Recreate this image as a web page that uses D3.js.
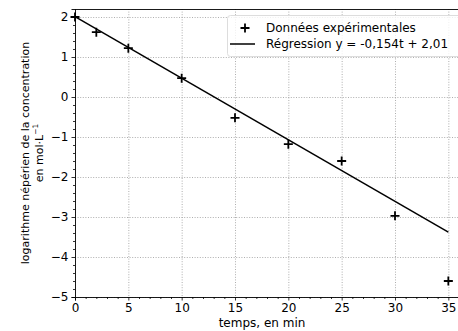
<!DOCTYPE html>
<html><head><meta charset="utf-8">
<script src="https://cdn.jsdelivr.net/npm/d3@7"></script>
<style>body{margin:0;background:#fff}svg{display:block;font-family:"DejaVu Sans",sans-serif}</style>
</head><body><svg id="c" width="458" height="331"></svg>
<script>
const times = [0, 2, 5, 10, 15, 20, 25, 30, 35];
const lnC = [2.0, 1.62, 1.22, 0.47, -0.52, -1.18, -1.6, -2.97, -4.6];
const fitT = [0, 35];
const fitY = [2.01, -3.38];
const xTicks = [0, 5, 10, 15, 20, 25, 30, 35];
const yTicks = [2, 1, 0, -1, -2, -3, -4, -5];
const legendLabels = ["Données expérimentales", "Régression y = -0,154t + 2,01"];

const svg = d3.select("#c");
const L = 75, R = 459, T = 9, B = 297;
const x = d3.scaleLinear().domain([0, 36]).range([L, R]);
const y = d3.scaleLinear().domain([-5, 2.2]).range([B, T]);
const fmt = d => (d < 0 ? "\u2212" + Math.abs(d) : "" + d);

// grid
const g = svg.append("g");
g.selectAll(".gx").data(xTicks).join("line")
  .attr("x1", d => x(d) + 0.5).attr("x2", d => x(d) + 0.5).attr("y1", T).attr("y2", B)
  .attr("stroke", "#999").attr("stroke-width", 0.8).attr("stroke-dasharray", "1,1.6");
g.selectAll(".gy").data(yTicks).join("line")
  .attr("y1", d => Math.round(y(d)) + 0.5).attr("y2", d => Math.round(y(d)) + 0.5).attr("x1", L).attr("x2", R)
  .attr("stroke", "#999").attr("stroke-width", 0.8).attr("stroke-dasharray", "1,1.6");

// axes
const xAxis = svg.append("g").attr("transform", `translate(0,${B})`)
  .call(d3.axisBottom(x).tickValues(xTicks).tickFormat(fmt).tickSize(3.5).tickPadding(3));
const xMinor = svg.append("g").attr("transform", `translate(0,${B})`)
  .call(d3.axisBottom(x).tickValues(d3.range(0, 36, 1).filter(v => v % 5)).tickFormat("").tickSize(2));
const yAxis = svg.append("g").attr("transform", `translate(${L},0)`)
  .call(d3.axisLeft(y).tickValues(yTicks).tickFormat(fmt).tickSize(3.5).tickPadding(3));
const yMinor = svg.append("g").attr("transform", `translate(${L},0)`)
  .call(d3.axisLeft(y).tickValues(d3.range(-50, 22, 2).map(v => v / 10).filter(v => Math.abs(v - Math.round(v)) > 1e-6)).tickFormat("").tickSize(2));
[xAxis, xMinor, yAxis, yMinor].forEach(a => {
  a.selectAll("path").attr("stroke", "#000").attr("stroke-width", 0.9);
  a.selectAll("line").attr("stroke", "#000").attr("stroke-width", 0.8);
  a.selectAll("text").attr("font-size", 12).attr("fill", "#000").attr("font-family", "DejaVu Sans");
});
xMinor.select("path").remove(); yMinor.select("path").remove();
// top spine
svg.append("line").attr("x1", L).attr("x2", R).attr("y1", T + 0.5).attr("y2", T + 0.5)
  .attr("stroke", "#000").attr("stroke-width", 0.9);

// regression line
svg.append("path").datum(fitT.map((t, i) => [t, fitY[i]]))
  .attr("d", d3.line().x(d => x(d[0])).y(d => y(d[1])))
  .attr("fill", "none").attr("stroke", "#000").attr("stroke-width", 1.5);

// points
const m = 4.5;
const pts = svg.append("g").selectAll("g").data(times.map((t, i) => [t, lnC[i]])).join("g")
  .attr("transform", d => `translate(${x(d[0])},${y(d[1])})`);
pts.append("path").attr("d", `M${-m},0H${m}M0,${-m}V${m}`).attr("stroke", "#000").attr("stroke-width", 1.8);

// legend
const lg = svg.append("g");
lg.append("rect").attr("x", 227.5).attr("y", 15.5).attr("width", 240).attr("height", 41).attr("rx", 3)
  .attr("fill", "#fff").attr("fill-opacity", 0.8).attr("stroke", "#ddd").attr("stroke-width", 1);
lg.append("path").attr("d", `M${245 - m},28H${245 + m}M245,${28 - m}V${28 + m}`).attr("stroke", "#000").attr("stroke-width", 1.8);
lg.append("line").attr("x1", 230).attr("x2", 255).attr("y1", 44).attr("y2", 44).attr("stroke", "#000").attr("stroke-width", 1.5);
lg.selectAll("text").data(legendLabels).join("text")
  .attr("x", 266).attr("y", (d, i) => 28 + i * 16).attr("dy", "0.35em")
  .attr("font-size", 12).text(d => d);

// axis labels
svg.append("text").attr("x", (L + 449) / 2).attr("y", 327).attr("text-anchor", "middle")
  .attr("font-size", 12).text("temps, en min");
const yl = svg.append("text").attr("transform", `translate(29,153) rotate(-90)`).attr("text-anchor", "middle").attr("font-size", 11);
yl.append("tspan").attr("x", 0).attr("y", 0).text("logarithme népérien de la concentration");
const t2 = yl.append("tspan").attr("x", 0).attr("y", 14);
t2.append("tspan").text("en mol·L");
t2.append("tspan").attr("dy", -5).attr("font-size", 7.5).text("\u22121");
</script></body></html>
